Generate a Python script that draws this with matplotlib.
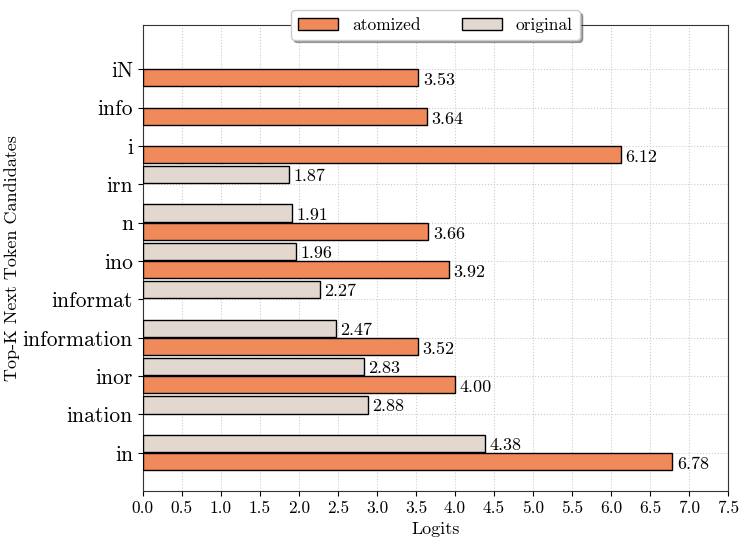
import numpy as np
import matplotlib
matplotlib.use("Agg")
import matplotlib.pyplot as plt

plt.rcParams['font.family'] = ['cmr10', 'DejaVu Serif']
plt.rcParams['mathtext.fontset'] = 'cm'
plt.rcParams['axes.formatter.use_mathtext'] = True

tokens = ["in", "ination", "inor", "information", "informat", "ino",
          "n", "irn", "i", "info", "iN"]
# 0 means the token is not among that model's candidates
atomized = [6.78, 0, 4.00, 3.52, 0, 3.92, 3.66, 0, 6.12, 3.64, 3.53]
original = [4.38, 2.88, 2.83, 2.47, 2.27, 1.96, 1.91, 1.87, 0, 0, 0]

atom_color = "#F08A5A"
orig_color = "#E3D8CF"

fig, ax = plt.subplots(figsize=(7.47, 5.44), dpi=100)
y = np.arange(len(tokens))
h = 0.45

for i in range(len(tokens)):
    if atomized[i] > 0:
        ax.barh(y[i] - 0.225, atomized[i], height=h, color=atom_color,
                edgecolor="black", linewidth=1.0, zorder=3)
        ax.text(atomized[i] + 0.06, y[i] - 0.3, "%.2f" % atomized[i],
                va="center", ha="left", fontsize=13)
    if original[i] > 0:
        ax.barh(y[i] + 0.25, original[i], height=h, color=orig_color,
                edgecolor="black", linewidth=1.0, zorder=3)
        ax.text(original[i] + 0.06, y[i] + 0.2, "%.2f" % original[i],
                va="center", ha="left", fontsize=13)

ax.set_yticks(y)
ax.set_yticklabels(tokens, fontsize=15.5)
ax.set_xticks(np.arange(0, 7.51, 0.5))
ax.set_xticklabels(["%.1f" % v for v in np.arange(0, 7.51, 0.5)], fontsize=12.5)
ax.set_xlim(0, 7.5)
ax.set_ylim(-1, 11.15)
ax.set_xlabel("Logits", fontsize=13)
ax.set_ylabel("Top-K Next Token Candidates", fontsize=13, labelpad=2)
ax.grid(True, linestyle=":", color="#cccccc", linewidth=0.8, zorder=0)
for s in ax.spines.values():
    s.set_color("#333333")

handles = [plt.Rectangle((0, 0), 1, 1, facecolor=atom_color, edgecolor="black"),
           plt.Rectangle((0, 0), 1, 1, facecolor=orig_color, edgecolor="black")]
leg = ax.legend(handles, ["atomized", "original"], loc="center",
                bbox_to_anchor=(0.5, 1.0), ncol=2, fontsize=12.5,
                fancybox=True, shadow=True, handlelength=2.3,
                columnspacing=2.4, framealpha=1)

plt.subplots_adjust(left=0.191, right=0.975, top=0.954, bottom=0.097)
plt.savefig("out.png", dpi=100)
